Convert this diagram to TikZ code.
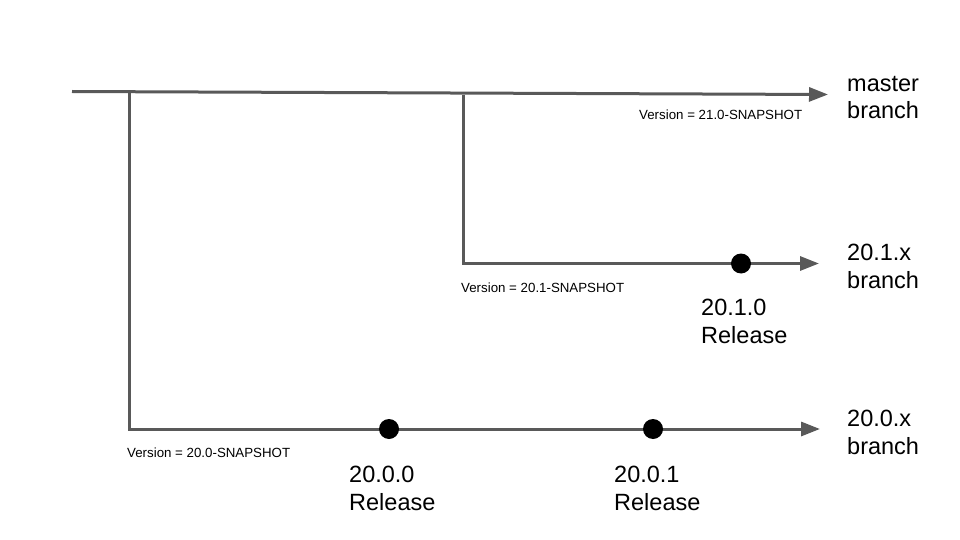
\documentclass[tikz,border=0pt]{standalone}
\usepackage{fontspec}
\setmainfont{Liberation Sans}
\usetikzlibrary{arrows.meta}
\definecolor{linegray}{HTML}{595959}
\tikzset{
  branchline/.style={draw=linegray, line width=3pt},
  branchend/.style={branchline, -{Triangle[length=19pt,width=14pt]}},
  relpt/.style={circle, fill=black, inner sep=0pt, minimum size=20pt},
  biglabel/.style={anchor=base west, inner sep=0pt, align=left, font=\fontsize{23.5}{27.6}\selectfont},
  verlabel/.style={anchor=base west, inner sep=0pt, font=\fontsize{13.3}{15}\selectfont}
}
\begin{document}
\begin{tikzpicture}[x=1pt,y=-1pt]
\useasboundingbox (0,0) rectangle (960,540);
% coordinates
\coordinate (mstart) at (72,91.5);
\coordinate (mend) at (828,94.5);
\coordinate (b0top) at (129,93);
\coordinate (b0end) at (820,429);
\coordinate (b1top) at (463,95);
\coordinate (b1end) at (819,263.5);
% lines
\draw[branchend] (mstart) -- (mend);
\draw[branchend] (b0top) |- (b0end);
\draw[branchend] (b1top) |- (b1end);
% release points
\node[relpt] (r110) at (741,263.5) {};
\node[relpt] (r200) at (389,429) {};
\node[relpt] (r201) at (653,429) {};
% branch labels (anchor = baseline of last line)
\node[biglabel] (lmaster) at (847,119) {master\\branch};
\node[biglabel] (l201x) at (847,288) {20.1.x\\branch};
\node[biglabel] (l200x) at (847,454) {20.0.x\\branch};
% release labels
\node[biglabel] (l110) at (701,343) {20.1.0\\Release};
\node[biglabel] (l200) at (349,510) {20.0.0\\Release};
\node[biglabel] (l201) at (614,510) {20.0.1\\Release};
% version labels
\node[verlabel] (v21) at (639,120) {Version = 21.0-SNAPSHOT};
\node[verlabel] (v201) at (461,292) {Version = 20.1-SNAPSHOT};
\node[verlabel] (v200) at (127,457) {Version = 20.0-SNAPSHOT};
\end{tikzpicture}
\end{document}
